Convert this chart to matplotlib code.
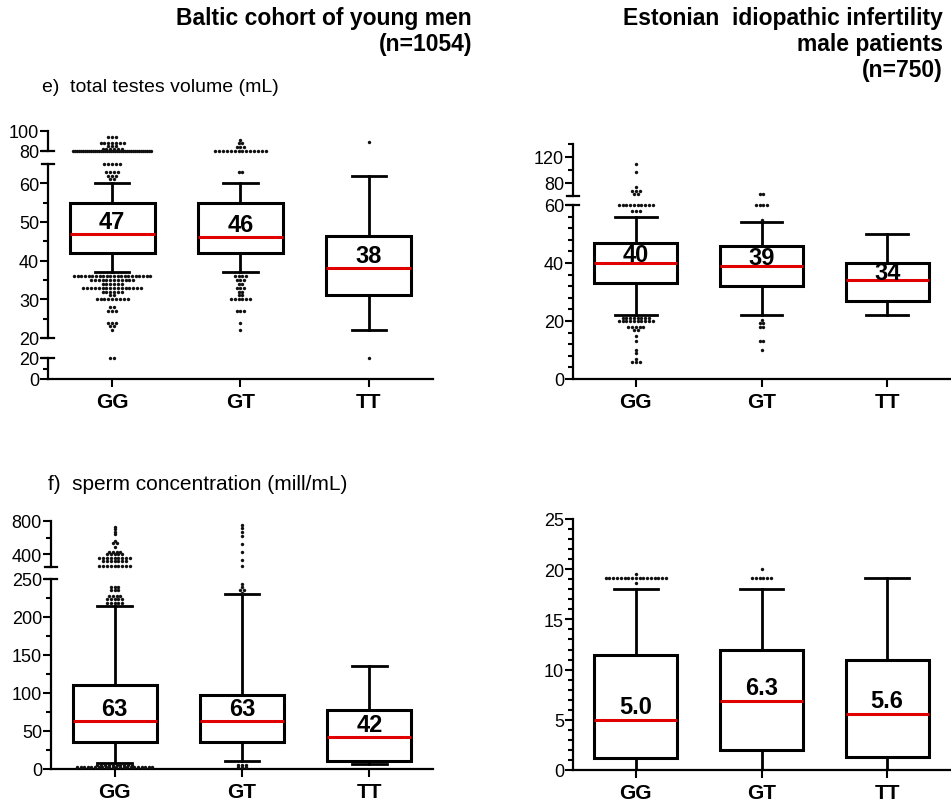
import numpy as np
import matplotlib
matplotlib.use("Agg")
import matplotlib.pyplot as plt

plt.rcParams['font.family'] = ['Liberation Sans', 'DejaVu Sans']

groups = ['GG', 'GT', 'TT']

# -------------------------------
# e) total testes volume - Baltic cohort
# -------------------------------
e_bal_q1 = [42, 42, 31]
e_bal_med = [47, 46, 38]
e_bal_q3 = [55, 55, 46.5]
e_bal_lo = [37, 37, 22]
e_bal_hi = [60, 60, 62]
e_bal_labels = ['47', '46', '38']
# outliers: value and how many dots sit at that value
e_bal_out_gg = [94, 88, 85, 82.5, 80.5, 65, 63, 62, 61, 36, 35, 34, 33, 32, 31, 30, 28, 27, 24, 23, 22, 19.6]
e_bal_cnt_gg = [3, 7, 3, 6, 40, 5, 4, 3, 2, 22, 12, 6, 16, 6, 2, 9, 2, 3, 3, 2, 1, 2]
e_bal_out_gt = [91, 88, 84, 80.5, 63, 36, 35, 34, 33, 32, 31, 30, 27, 24, 22]
e_bal_cnt_gt = [1, 2, 3, 14, 2, 4, 3, 2, 3, 2, 2, 6, 3, 1, 1]
e_bal_out_tt = [89, 19.6]
e_bal_cnt_tt = [1, 1]

# -------------------------------
# e) total testes volume - Estonian patients
# -------------------------------
e_est_q1 = [33, 32, 27]
e_est_med = [40, 39, 34]
e_est_q3 = [47, 46, 40]
e_est_lo = [22, 22, 22]
e_est_hi = [56, 54, 50]
e_est_labels = ['40', '39', '34']
e_est_out_gg = [109, 97, 74, 68, 63, 60, 58, 21, 20, 18, 17, 15, 13, 10, 9, 7, 6]
e_est_cnt_gg = [1, 1, 1, 3, 2, 10, 3, 8, 10, 5, 2, 1, 1, 1, 1, 1, 3]
e_est_out_gt = [63, 60, 55, 20.3, 19.2, 18, 13, 10]
e_est_cnt_gt = [2, 4, 1, 1, 2, 2, 2, 1]
e_est_out_tt = []
e_est_cnt_tt = []

# -------------------------------
# f) sperm concentration - Baltic cohort
# -------------------------------
f_bal_q1 = [35, 35, 11]
f_bal_med = [63, 63, 42]
f_bal_q3 = [110, 97, 78]
f_bal_lo = [8, 10, 7]
f_bal_hi = [215, 230, 135]
f_bal_labels = ['63', '63', '42']
f_bal_out_gg = [820, 725, 705, 665, 640, 565, 540, 495, 435, 405, 355, 320, 260, 239, 235, 228, 224, 219, 5, 3]
f_bal_cnt_gg = [1, 1, 1, 1, 1, 1, 2, 1, 4, 5, 9, 7, 9, 3, 3, 4, 5, 5, 10, 22]
f_bal_out_gt = [755, 720, 670, 625, 530, 435, 330, 260, 243, 239, 235, 232, 5, 3]
f_bal_cnt_gt = [1, 1, 1, 1, 1, 1, 1, 1, 1, 1, 2, 1, 3, 3]
f_bal_out_tt = []
f_bal_cnt_tt = []

# -------------------------------
# f) sperm concentration - Estonian patients
# -------------------------------
f_est_q1 = [1.2, 2.0, 1.25]
f_est_med = [5.0, 6.9, 5.6]
f_est_q3 = [11.5, 12.0, 11.0]
f_est_lo = [0, 0, 0]
f_est_hi = [18, 18, 19.1]
f_est_labels = ['5.0', '6.3', '5.6']
f_est_out_gg = [19.5, 19.1, 18.6]
f_est_cnt_gg = [1, 17, 1]
f_est_out_gt = [20, 19.1]
f_est_cnt_gt = [1, 6]
f_est_out_tt = []
f_est_cnt_tt = []

W, H = 951, 804
fig = plt.figure(figsize=(W / 100, H / 100), dpi=100)


def swarm(vals, cnts, pos, step=0.03, maxw=0.62):
    xs, ys = [], []
    for v, n in zip(vals, cnts):
        s = min(step, maxw / n)
        off = (np.arange(n) - (n - 1) / 2) * s
        xs += list(pos + off)
        ys += [v] * n
    return np.array(xs), np.array(ys)


def panel(x0, x1, segs, q1, med, q3, lo, hi, outs, labels, lab_off, capw, main):
    stats = [dict(q1=a, med=b, q3=c, whislo=d, whishi=e, fliers=[])
             for a, b, c, d, e in zip(q1, med, q3, lo, hi)]
    nseg = len(segs)
    for k, (yt, yb, ylo, yhi, major, minor) in enumerate(segs):
        ax = fig.add_axes([x0 / W, 1 - yb / H, (x1 - x0) / W, (yb - yt) / H])
        ax.set_xlim(-0.5, 2.5)
        ax.set_ylim(ylo, yhi)
        ax.patch.set_alpha(0)
        ax.bxp(stats, positions=[0, 1, 2], widths=0.66, capwidths=capw,
               showfliers=False, patch_artist=True,
               boxprops=dict(facecolor='white', edgecolor='black', linewidth=2.2),
               whiskerprops=dict(color='black', linewidth=2.0),
               capprops=dict(color='black', linewidth=2.0),
               medianprops=dict(color='#e00000', linewidth=2.2))
        for i, (vals, cnts) in enumerate(outs):
            if len(vals) == 0:
                continue
            x, y = swarm(vals, cnts, i)
            if k == nseg - 1:
                m = (y >= ylo) & (y <= yhi)
            else:
                m = (y > ylo) & (y <= yhi)
            ax.scatter(x[m], y[m], s=6, color='#111111', linewidths=0,
                       clip_on=False, zorder=4)
        for s in ['top', 'right']:
            ax.spines[s].set_visible(False)
        ax.spines['left'].set_linewidth(1.6)
        ax.spines['bottom'].set_linewidth(1.6)
        ax.set_yticks(major)
        ax.set_yticks(minor, minor=True)
        ax.tick_params(axis='y', which='major', length=5.5, width=1.5, labelsize=13, pad=1)
        ax.tick_params(axis='y', which='minor', length=3.5, width=1.5)
        if k == nseg - 1:
            ax.set_xticks([0, 1, 2])
            ax.set_xticklabels(groups, fontweight='bold', fontsize=15)
            ax.tick_params(axis='x', length=5.5, width=1.5, pad=4)
        else:
            ax.spines['bottom'].set_visible(False)
            ax.tick_params(axis='x', bottom=False, labelbottom=False)
        # break marks on the spine
        d = 6.0 / (x1 - x0)
        if k > 0:
            ax.plot([-d, d], [1, 1], transform=ax.transAxes, color='black',
                    lw=1.6, clip_on=False)
        if k < nseg - 1:
            ax.plot([-d, d], [0, 0], transform=ax.transAxes, color='black',
                    lw=1.6, clip_on=False)
        if k == main:
            for i, (lab, mv) in enumerate(zip(labels, med)):
                ax.annotate(lab, (i, mv), xytext=(0, lab_off), textcoords='offset points',
                            ha='center', va='center', fontweight='bold', fontsize=17,
                            zorder=5)


panel(48, 433,
      [(132, 152, 80, 100, [80, 100], []),
       (165, 339, 20, 65, [20, 30, 40, 50, 60], [25, 35, 45, 55, 65]),
       (359, 380, 0, 20, [0, 20], [10])],
      e_bal_q1, e_bal_med, e_bal_q3, e_bal_lo, e_bal_hi,
      [(e_bal_out_gg, e_bal_cnt_gg), (e_bal_out_gt, e_bal_cnt_gt), (e_bal_out_tt, e_bal_cnt_tt)],
      e_bal_labels, 9.0, 0.27, 1)

panel(573, 950,
      [(145, 197, 60, 140, [80, 120], [60, 100, 140]),
       (206, 380, 0, 60, [0, 20, 40, 60], list(range(4, 60, 4)))],
      e_est_q1, e_est_med, e_est_q3, e_est_lo, e_est_hi,
      [(e_est_out_gg, e_est_cnt_gg), (e_est_out_gt, e_est_cnt_gt), (e_est_out_tt, e_est_cnt_tt)],
      e_est_labels, 6.0, 0.33, 1)

panel(51, 433,
      [(522, 568, 250, 800, [400, 800], [250, 600]),
       (580, 770, 0, 250, [0, 50, 100, 150, 200, 250], [25, 75, 125, 175, 225])],
      f_bal_q1, f_bal_med, f_bal_q3, f_bal_lo, f_bal_hi,
      [(f_bal_out_gg, f_bal_cnt_gg), (f_bal_out_gt, f_bal_cnt_gt), (f_bal_out_tt, f_bal_cnt_tt)],
      f_bal_labels, 9.0, 0.27, 1)

panel(573, 950,
      [(520, 771, 0, 25, [0, 5, 10, 15, 20, 25], list(range(1, 25)))],
      f_est_q1, f_est_med, f_est_q3, f_est_lo, f_est_hi,
      [(f_est_out_gg, f_est_cnt_gg), (f_est_out_gt, f_est_cnt_gt), (f_est_out_tt, f_est_cnt_tt)],
      f_est_labels, 9.5, 0.35, 0)

# titles
tkw = dict(fontweight='bold', fontsize=16.5, ha='right', va='center')
fig.text(472 / W, 1 - 18 / H, 'Baltic cohort of young men', **tkw)
fig.text(472 / W, 1 - 44 / H, '(n=1054)', **tkw)
fig.text(943 / W, 1 - 18 / H, 'Estonian  idiopathic infertility', **tkw)
fig.text(943 / W, 1 - 44 / H, 'male patients', **tkw)
fig.text(943 / W, 1 - 70 / H, '(n=750)', **tkw)
fig.text(42 / W, 1 - 88 / H, 'e)  total testes volume (mL)', fontsize=14, ha='left', va='center')
fig.text(48 / W, 1 - 485 / H, 'f)  sperm concentration (mill/mL)', fontsize=15, ha='left', va='center')

fig.savefig('out.png', dpi=100)
